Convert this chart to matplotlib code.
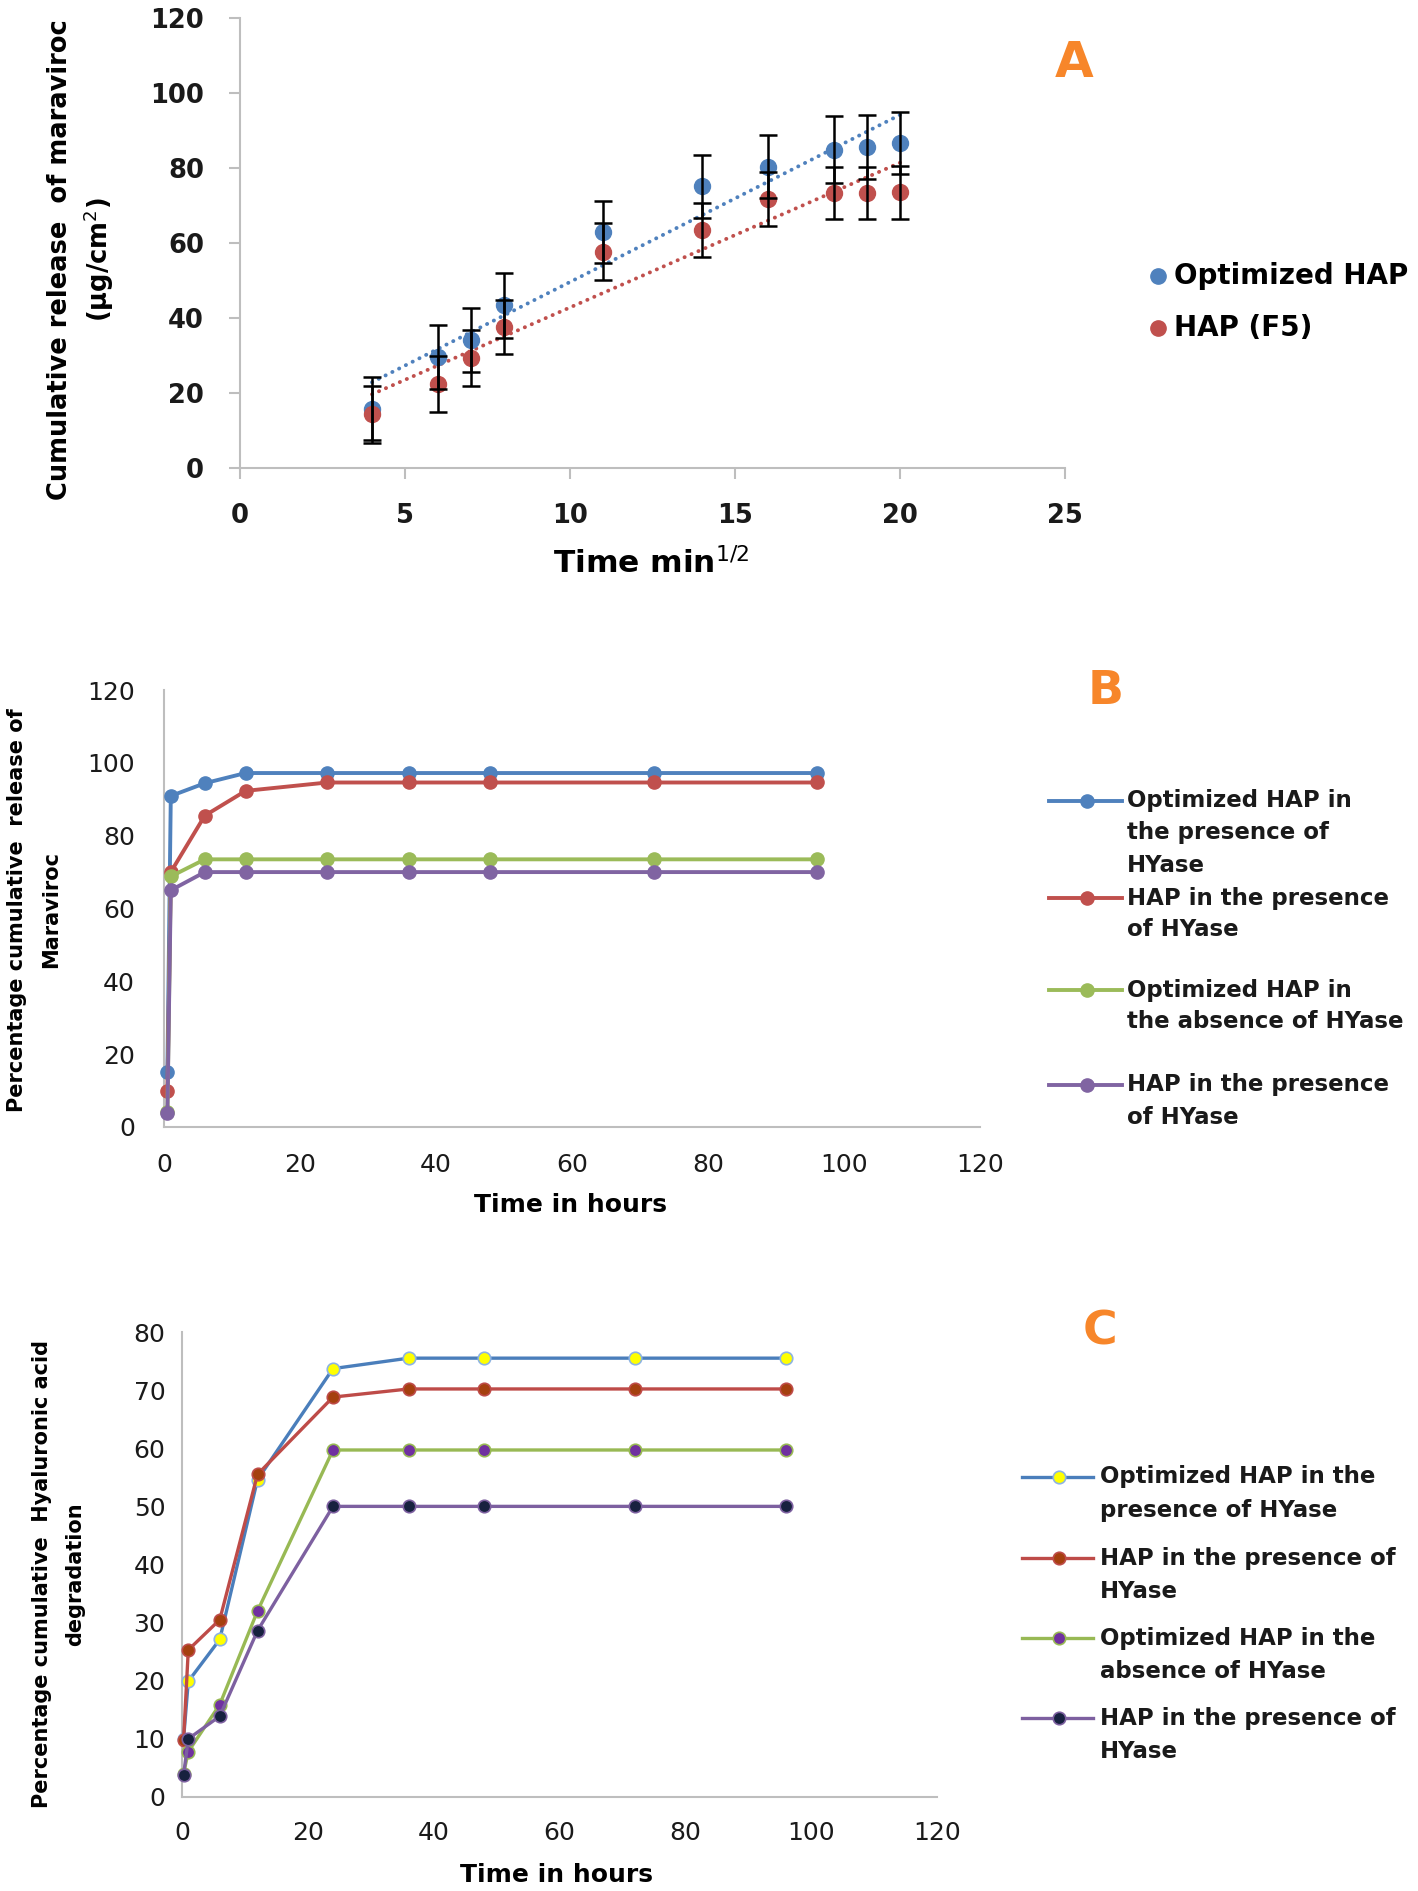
import matplotlib
matplotlib.use("Agg")
import matplotlib.pyplot as plt
import numpy as np
from matplotlib.lines import Line2D

# ---------------- data ----------------
# Panel A
a_time = [4, 6, 7, 8, 11, 14, 16, 18, 19, 20]
a_opt = [15.8, 29.6, 34.2, 43.4, 62.9, 75.1, 80.4, 84.9, 85.6, 86.6]
a_opt_err = [8.4, 8.5, 8.6, 8.6, 8.3, 8.3, 8.3, 8.9, 8.6, 8.3]
a_f5 = [14.3, 22.5, 29.4, 37.5, 57.7, 63.5, 71.7, 73.4, 73.4, 73.5]
a_f5_err = [7.7, 7.5, 7.5, 7.2, 7.6, 7.3, 7.2, 6.9, 6.9, 7.0]
a_labels = ["Optimized HAP", "HAP (F5)"]
a_xticks = [0, 5, 10, 15, 20, 25]
a_yticks = [0, 20, 40, 60, 80, 100, 120]

# Panel B
b_time = [0.5, 1, 6, 12, 24, 36, 48, 72, 96]
b_opt_hyase = [15.2, 90.9, 94.4, 97.2, 97.2, 97.2, 97.2, 97.2, 97.2]
b_hap_hyase = [9.9, 70.0, 85.5, 92.3, 94.6, 94.6, 94.6, 94.6, 94.6]
b_opt_no_hyase = [4.0, 68.8, 73.5, 73.5, 73.5, 73.5, 73.5, 73.5, 73.5]
b_hap_hyase_2 = [3.9, 65.0, 70.0, 70.0, 70.0, 70.0, 70.0, 70.0, 70.0]
b_labels = [["Optimized HAP in", "the presence of", "HYase"],
            ["HAP in the presence", "of HYase"],
            ["Optimized HAP in", "the absence of HYase"],
            ["HAP in the presence", "of HYase"]]
b_xticks = [0, 20, 40, 60, 80, 100, 120]
b_yticks = [0, 20, 40, 60, 80, 100, 120]

# Panel C
c_time = [0.25, 1, 6, 12, 24, 36, 48, 72, 96]
c_opt_hyase = [10.0, 19.9, 27.1, 54.6, 73.7, 75.5, 75.5, 75.5, 75.5]
c_hap_hyase = [9.8, 25.3, 30.5, 55.5, 68.8, 70.2, 70.2, 70.2, 70.2]
c_opt_no_hyase = [4.0, 7.8, 15.9, 32.0, 59.7, 59.7, 59.7, 59.7, 59.7]
c_hap_hyase_2 = [3.8, 10.0, 13.9, 28.6, 50.0, 50.0, 50.0, 50.0, 50.0]
c_labels = [["Optimized HAP in the", "presence of HYase"],
            ["HAP in the presence of", "HYase"],
            ["Optimized HAP in the", "absence of HYase"],
            ["HAP in the presence of", "HYase"]]
c_xticks = [0, 20, 40, 60, 80, 100, 120]
c_yticks = [0, 10, 20, 30, 40, 50, 60, 70, 80]

# ---------------- style ----------------
BLUE = "#4F81BD"
RED = "#C0504D"
GREEN = "#9BBB59"
PURPLE = "#8064A2"
ORANGE = "#F7862A"
SPINE = "#BEBEBE"

W, H, DPI = 1418, 1891, 100
fig = plt.figure(figsize=(W / DPI, H / DPI), dpi=DPI)
plt.rcParams["font.family"] = ["DejaVu Sans"]


def fx(px):
    return px / W


def fy(py):
    return 1 - py / H


def axrect(l, t, r, b):
    return [l / W, 1 - b / H, (r - l) / W, (b - t) / H]


def style_axes(ax, ticklen, pad_x, pad_y, fs, weight):
    for s in ["top", "right"]:
        ax.spines[s].set_visible(False)
    for s in ["left", "bottom"]:
        ax.spines[s].set_color(SPINE)
        ax.spines[s].set_linewidth(1.5)
    ax.tick_params(axis="both", direction="out", length=ticklen, width=1.5,
                   color=SPINE, labelsize=fs, labelcolor="#1a1a1a")
    ax.tick_params(axis="x", pad=pad_x)
    ax.tick_params(axis="y", pad=pad_y)
    for lab in ax.get_xticklabels() + ax.get_yticklabels():
        lab.set_fontweight(weight)


# ---------------- Panel A ----------------
axA = fig.add_axes(axrect(240, 18, 1065, 468))
axA.set_xlim(0, 25)
axA.set_ylim(0, 120)
axA.set_xticks(a_xticks)
axA.set_yticks(a_yticks)
style_axes(axA, 8, 17, 18, 18.5, "bold")

xa = np.array(a_time, dtype=float)
for yv, col in [(a_opt, BLUE), (a_f5, RED)]:
    k, b0 = np.polyfit(xa, np.array(yv), 1)
    xx = np.array([xa.min(), xa.max()])
    axA.plot(xx, k * xx + b0, linestyle=(0, (0.05, 1.9)), color=col, lw=2.8,
             dash_capstyle="round", solid_capstyle="round", zorder=2)

axA.plot(a_time, a_opt, "o", color=BLUE, ms=11.5, zorder=3)
axA.errorbar(a_time, a_opt, yerr=a_opt_err, fmt="none", ecolor="black",
             elinewidth=1.8, capsize=6.5, capthick=1.8, zorder=4)
axA.plot(a_time, a_f5, "o", color=RED, ms=11.5, zorder=3)
axA.errorbar(a_time, a_f5, yerr=a_f5_err, fmt="none", ecolor="black",
             elinewidth=1.8, capsize=6.5, capthick=1.8, zorder=4)

fig.text(fx(60), fy(260), "Cumulative release  of maraviroc", rotation=90,
         ha="center", va="center", fontsize=18.5, fontweight="bold")
fig.text(fx(99), fy(260), r"(µg/cm$^{2}$)", rotation=90,
         ha="center", va="center", fontsize=18.5, fontweight="bold")
fig.text(fx(651), fy(563), r"Time min$^{1/2}$", ha="center", va="center",
         fontsize=22.5, fontweight="bold")
fig.text(fx(1074), fy(63), "A", ha="center", va="center", fontsize=36,
         fontweight="bold", color=ORANGE)

for lab, col, yy in zip(a_labels, [BLUE, RED], [276, 328]):
    fig.add_artist(Line2D([fx(1158)], [fy(yy)], marker="o", color=col, ms=11,
                          linestyle="none"))
    fig.text(fx(1174), fy(yy), lab, ha="left", va="center", fontsize=20,
             fontweight="bold")

# ---------------- Panel B ----------------
axB = fig.add_axes(axrect(164, 690, 980, 1127))
axB.set_xlim(0, 120)
axB.set_ylim(0, 120)
axB.set_xticks(b_xticks)
axB.set_yticks(b_yticks)
style_axes(axB, 0, 19, 21, 18, "normal")

b_series = [(b_opt_hyase, BLUE, BLUE), (b_hap_hyase, RED, RED),
            (b_opt_no_hyase, GREEN, GREEN), (b_hap_hyase_2, PURPLE, PURPLE)]
for yv, lc, mc in b_series:
    axB.plot(b_time, yv, "-o", color=lc, lw=2.8, ms=9.5, mfc=mc, mec=mc,
             clip_on=False, zorder=3)

fig.text(fx(17), fy(910), "Percentage cumulative  release of", rotation=90,
         ha="center", va="center", fontsize=15, fontweight="bold")
fig.text(fx(51), fy(910), "Maraviroc", rotation=90,
         ha="center", va="center", fontsize=15, fontweight="bold")
fig.text(fx(571), fy(1205), "Time in hours", ha="center", va="center",
         fontsize=18, fontweight="bold")
fig.text(fx(1106), fy(691), "B", ha="center", va="center", fontsize=34,
         fontweight="bold", color=ORANGE)

b_leg_y = [801, 898, 990, 1085]
for (yv, lc, mc), lines, y0 in zip(b_series, b_labels, b_leg_y):
    fig.add_artist(Line2D([fx(1049), fx(1122)], [fy(y0), fy(y0)], color=lc,
                          lw=2.8))
    fig.add_artist(Line2D([fx(1087)], [fy(y0)], marker="o", color=mc, ms=9.5,
                          linestyle="none"))
    for i, t in enumerate(lines):
        fig.text(fx(1127), fy(y0 + 32 * i), t, ha="left", va="center",
                 fontsize=16.5, fontweight="bold", color="#1a1a1a")

# ---------------- Panel C ----------------
axC = fig.add_axes(axrect(182, 1332, 937, 1797))
axC.set_xlim(0, 120)
axC.set_ylim(0, 80)
axC.set_xticks(c_xticks)
axC.set_yticks(c_yticks)
style_axes(axC, 0, 17, 12, 18, "normal")

c_series = [(c_opt_hyase, "#4A7EBB", "#FFFF00", "#8DB3E2"),
            (c_hap_hyase, "#BE4B48", "#A5400F", "#BE4B48"),
            (c_opt_no_hyase, "#98B954", "#7030A0", "#98B954"),
            (c_hap_hyase_2, "#7D60A0", "#17213F", "#7D60A0")]
for yv, lc, mc, me in c_series:
    axC.plot(c_time, yv, "-o", color=lc, lw=2.4, ms=9, mfc=mc, mec=me,
             mew=1.2, clip_on=False, zorder=3)

fig.text(fx(42), fy(1574), "Percentage cumulative  Hyaluronic acid",
         rotation=90, ha="center", va="center", fontsize=15,
         fontweight="bold")
fig.text(fx(75), fy(1574), "degradation", rotation=90,
         ha="center", va="center", fontsize=15, fontweight="bold")
fig.text(fx(556), fy(1875), "Time in hours", ha="center", va="center",
         fontsize=18, fontweight="bold")
fig.text(fx(1100), fy(1332), "C", ha="center", va="center", fontsize=34,
         fontweight="bold", color=ORANGE)

c_leg_y = [1477, 1558, 1638, 1718]
for (yv, lc, mc, me), lines, y0 in zip(c_series, c_labels, c_leg_y):
    fig.add_artist(Line2D([fx(1022), fx(1093)], [fy(y0), fy(y0)], color=lc,
                          lw=2.4))
    fig.add_artist(Line2D([fx(1059)], [fy(y0)], marker="o", ms=9, mfc=mc,
                          mec=me, mew=1.2, linestyle="none"))
    for i, t in enumerate(lines):
        fig.text(fx(1100), fy(y0 + 33 * i), t, ha="left", va="center",
                 fontsize=16.5, fontweight="bold", color="#1a1a1a")

fig.savefig("out.png", dpi=DPI, facecolor="white")
